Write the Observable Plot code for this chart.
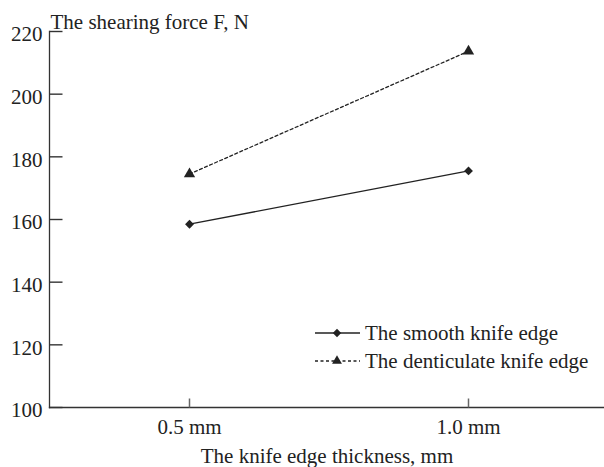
<!DOCTYPE html>
<html>
<head>
<meta charset="utf-8">
<script src="https://cdn.jsdelivr.net/npm/d3@7"></script>
<script src="https://cdn.jsdelivr.net/npm/@observablehq/plot@0.6"></script>
<style>
  body { margin: 0; background: #fff; }
  #chart { position: relative; width: 604px; height: 467px; font-family: "Liberation Serif", "Times New Roman", serif; }
  #legend { position: absolute; left: 0; top: 0; pointer-events: none; }
</style>
</head>
<body>
<div id="chart"></div>
<script>
// Knife edge thickness categories
const thickness = ["0.5 mm", "1.0 mm"];
// Shearing force (N) for each knife edge type
const smoothForce = [158.5, 175.5];
const denticulateForce = [174.5, 213.7];
const seriesNames = ["The smooth knife edge", "The denticulate knife edge"];
const yTicks = [100, 120, 140, 160, 180, 200, 220];
const yLabel = "The shearing force F, N";
const xLabel = "The knife edge thickness, mm";

const smoothRows = thickness.map((t, i) => ({thickness: t, force: smoothForce[i], series: seriesNames[0]}));
const dentRows = thickness.map((t, i) => ({thickness: t, force: denticulateForce[i], series: seriesNames[1]}));

const ink = "#222";
const font = "'Liberation Serif', 'Times New Roman', serif";

// short tick shapes pointing into the plot area
const tickRight = {draw(context) { context.moveTo(0, 0); context.lineTo(13, 0); }};
const tickUp = {draw(context) { context.moveTo(0, 0); context.lineTo(0, -9); }};

const plot = Plot.plot({
  width: 604,
  height: 467,
  marginLeft: 49,
  marginRight: 0,
  marginTop: 31,
  marginBottom: 60,
  style: {fontFamily: font, fontSize: "21px", color: ink, background: "white", overflow: "visible"},
  x: {type: "point", domain: thickness, range: [189, 468], padding: 0},
  y: {domain: [100, 220]},
  marks: [
    // axis lines (left and bottom sides of the frame)
    Plot.frame({anchor: "left", stroke: "#333", strokeWidth: 1.3}),
    Plot.frame({anchor: "bottom", stroke: "#333", strokeWidth: 1.3}),
    // inward ticks
    Plot.dot(yTicks, {y: d => d, frameAnchor: "left", symbol: tickRight, fill: "none", stroke: "#333", strokeWidth: 1.4}),
    Plot.dot(thickness, {x: d => d, frameAnchor: "bottom", symbol: tickUp, fill: "none", stroke: "#666", strokeWidth: 1.5}),
    // tick labels
    Plot.axisY(yTicks, {tickSize: 0, tickPadding: 7, dy: 3, label: null, fill: ink}),
    Plot.axisX(thickness, {tickSize: 0, tickPadding: 12, label: null, fill: ink}),
    // axis titles
    Plot.text([yLabel], {frameAnchor: "top-left", text: d => d, textAnchor: "start", lineAnchor: "bottom", dx: 1, dy: -3, fill: ink}),
    Plot.text([xLabel], {frameAnchor: "bottom", text: d => d, lineAnchor: "middle", dy: 49, fill: ink}),
    // series
    Plot.line(smoothRows, {x: "thickness", y: "force", stroke: ink, strokeWidth: 1.3}),
    Plot.line(dentRows, {x: "thickness", y: "force", stroke: ink, strokeWidth: 1.3, strokeDasharray: "3,2.5"}),
    Plot.dot(smoothRows, {x: "thickness", y: "force", symbol: "diamond2", r: 4, fill: ink, stroke: "none"}),
    Plot.dot(dentRows, {x: "thickness", y: "force", symbol: "triangle", r: 4.2, fill: ink, stroke: "none"})
  ]
});

const chart = document.getElementById("chart");
chart.appendChild(plot);

// legend
const legend = d3.select(chart).append("svg")
  .attr("id", "legend")
  .attr("width", 604)
  .attr("height", 467)
  .style("font-family", font)
  .style("font-size", "21px");

const legendItems = [
  {name: seriesNames[0], dash: null, symbol: d3.symbolDiamond2, size: 45},
  {name: seriesNames[1], dash: "3,2.5", symbol: d3.symbolTriangle, size: 42}
];
legendItems.forEach((d, i) => {
  const g = legend.append("g").attr("transform", `translate(315, ${333 + i * 28})`);
  g.append("line").attr("x1", 0).attr("x2", 45).attr("y1", 0).attr("y2", 0)
    .attr("stroke", ink).attr("stroke-width", 1.3).attr("stroke-dasharray", d.dash);
  g.append("path").attr("transform", "translate(22,0)")
    .attr("d", d3.symbol(d.symbol, d.size)()).attr("fill", ink);
  g.append("text").attr("x", 50).attr("y", 7).attr("fill", ink).text(d.name);
});
</script>
</body>
</html>
